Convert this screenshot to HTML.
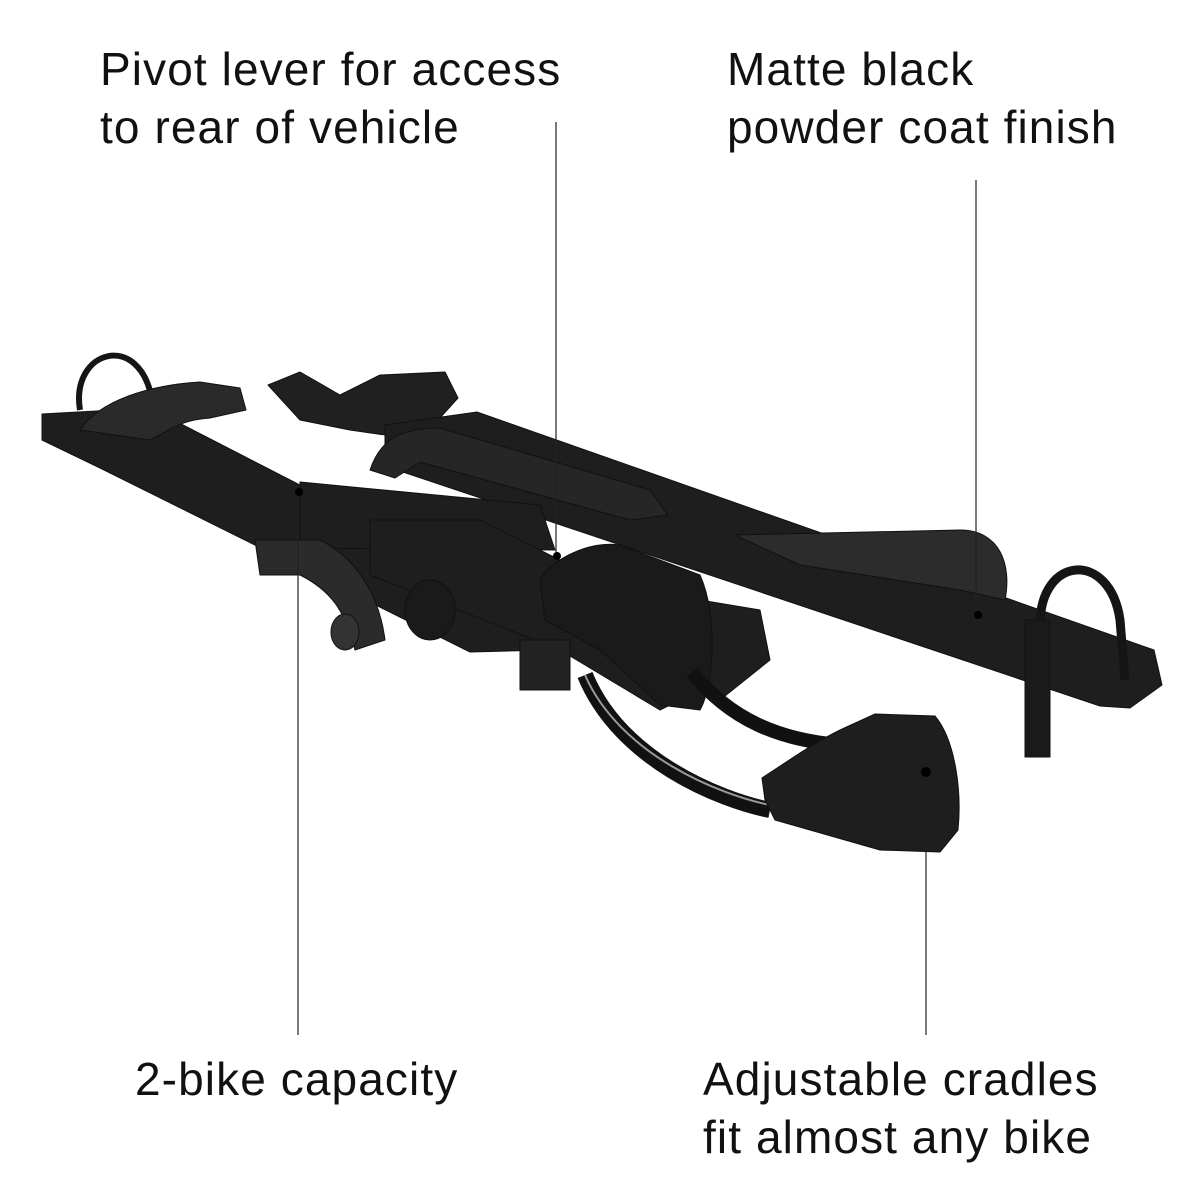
<!DOCTYPE html>
<html><head><meta charset="utf-8"><style>
html,body{margin:0;padding:0;background:#fff;width:1200px;height:1200px;overflow:hidden}
.t{position:absolute;font-family:"Liberation Sans",sans-serif;font-size:46px;letter-spacing:1.1px;color:#111;line-height:58px;white-space:nowrap}
</style></head><body>
<svg width="1200" height="1200" style="position:absolute;left:0;top:0">
<g fill="#1e1e1e" stroke="#111" stroke-linejoin="round">
<!-- left strap -->
<path d="M80,410 C70,350 140,330 152,400" fill="none" stroke="#151515" stroke-width="6"/>
<!-- left bar -->
<polygon points="42,414 150,408 520,598 545,650 470,652 100,468 42,440"/>
<!-- left cradle -->
<path d="M80,430 C100,400 150,385 200,382 L240,388 L246,410 L210,418 C180,420 170,430 150,440 Z" fill="#2a2a2a"/>
<!-- top far cradle -->
<path d="M268,385 L300,372 L340,395 L380,375 L445,372 L458,398 L420,440 L350,430 L300,420 Z" fill="#202020"/>
<!-- right bar -->
<polygon points="385,425 477,412 1154,650 1162,685 1130,708 1100,706 385,466"/>
<!-- right near handle -->
<path d="M370,470 C380,440 400,428 440,428 L650,490 L668,515 L630,520 L420,462 L395,478 Z" fill="#262626"/>
<!-- right far cradle -->
<path d="M735,535 L960,530 C1000,530 1012,565 1005,600 L960,590 L800,565 Z" fill="#2c2c2c"/>
<!-- cross bar -->
<polygon points="300,482 540,505 555,550 300,548"/>
<polygon points="370,520 480,520 640,600 700,690 660,710 560,650 370,575"/>
<!-- handle under -->
<path d="M255,540 L320,540 C360,560 380,600 385,640 L355,650 C345,610 330,590 300,575 L260,575 Z" fill="#2b2b2b"/>
<ellipse cx="345" cy="632" rx="14" ry="18" fill="#333"/>
<ellipse cx="430" cy="610" rx="25" ry="30" fill="#1a1a1a"/>
<!-- hitch tube -->
<polygon points="700,600 760,610 770,660 720,700 690,680"/>
<!-- upper front cradle -->
<path d="M540,580 C550,560 590,540 620,545 L700,575 C720,620 712,690 700,710 L660,705 L600,650 L545,620 Z" fill="#1a1a1a"/>
<rect x="520" y="640" width="50" height="50" fill="#222"/>
<!-- arms -->
<path d="M585,675 C620,760 720,800 770,810" fill="none" stroke="#111" stroke-width="16"/>
<path d="M585,675 C620,755 720,795 770,805" fill="none" stroke="#999" stroke-width="2"/>
<path d="M692,672 C730,720 780,740 840,745" fill="none" stroke="#111" stroke-width="14"/>
<!-- lower cradle -->
<path d="M762,778 C790,760 810,745 840,730 L875,714 L935,716 C955,740 962,790 958,830 L940,852 L880,850 L775,820 L765,800 Z" fill="#1e1e1e"/>
<!-- strap -->
<path d="M1040,625 C1040,555 1110,550 1120,620 L1125,680" fill="none" stroke="#151515" stroke-width="9"/>
<rect x="1025" y="620" width="25" height="137" fill="#1a1a1a"/>
</g>
<g stroke="#222" stroke-width="1.2">
<line x1="556" y1="122" x2="556" y2="556"/>
<line x1="976" y1="180" x2="976" y2="615"/>
<line x1="298" y1="492" x2="298" y2="1035"/>
<line x1="926" y1="772" x2="926" y2="1035"/>
</g>
<g fill="#000"><circle cx="299" cy="492" r="4"/><circle cx="557" cy="556" r="4"/><circle cx="978" cy="615" r="4"/><circle cx="926" cy="772" r="5"/></g>
</svg>
<div class="t" style="left:100px;top:40px">Pivot lever for access<br>to rear of vehicle</div>
<div class="t" style="left:727px;top:40px">Matte black<br>powder coat finish</div>
<div class="t" style="left:135px;top:1050px">2-bike capacity</div>
<div class="t" style="left:703px;top:1050px">Adjustable cradles<br>fit almost any bike</div>
</body></html>
